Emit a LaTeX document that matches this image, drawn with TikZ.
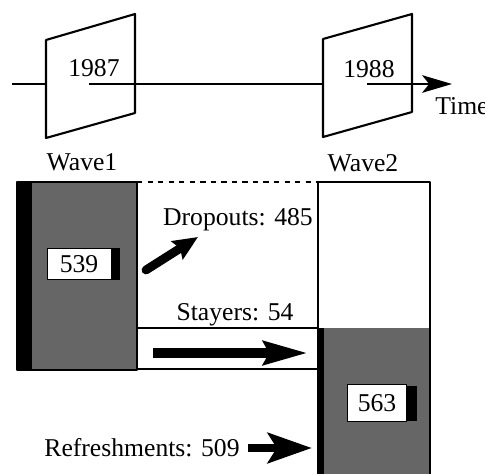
\documentclass[tikz,border=0pt]{standalone}
\usepackage{fontspec}
\setmainfont{Liberation Serif}
\usetikzlibrary{arrows.meta}

\tikzset{
  lbl/.style={font=\fontsize{14.6}{16}\selectfont, inner sep=0pt},
  plane/.style={fill=white, draw=black, line width=1.2pt},
  halftone/.style={fill=black!60},
  countbox/.style={lbl, fill=white, draw=black, line width=0.5pt},
  blockarrow/.style={line width=5.5pt, line cap=butt,
    -{Stealth[length=25pt, width=13pt, inset=3pt]}}
}

\begin{document}
\begin{tikzpicture}[x=0.02cm, y=-0.02cm, line join=round]

\useasboundingbox (0,0) rectangle (485,474);

% === EJE DEL TIEMPO ===
\coordinate (t0) at (12,84);
\coordinate (p1in) at (46,84);
\coordinate (p1out) at (89,84);
\coordinate (p1mid) at (112,84);
\coordinate (p2in) at (323,84);
\coordinate (p2out) at (367,84);
\coordinate (tend) at (452,84);
\draw[line width=1.1pt] (t0) -- (p1in);
% Plano Wave1
\draw[plane] (46,40) -- (135,14) -- (135,113) -- (46,138) -- cycle;
\draw[line width=1.1pt] (p1out) -- (p1mid);
\draw[line width=0.6pt] (p1mid) -- (p2in);
% Plano Wave2
\draw[plane] (323,39) -- (412,14) -- (412,112) -- (323,137) -- cycle;
\draw[line width=1.1pt, -{Stealth[length=17pt, width=10pt, inset=4pt]}] (p2out) -- (tend);

\node[lbl] (y1987) at (94,68) {1987};
\node[lbl] (y1988) at (369,69) {1988};
\node[lbl, anchor=west] (time) at (435,106) {Time};
\node[lbl] (wave1) at (82,162) {Wave1};
\node[lbl] (wave2) at (363,163) {Wave2};

% === BARRA WAVE1 ===
\fill[halftone] (17,182) rectangle (137,370);
\fill[black] (17,182) rectangle (32,370);
\draw[line width=0.6pt] (17,182) rectangle (137,370);
% Linea punteada superior
\draw[dashed, line width=0.7pt] (137,182) -- (318,182);
% Caja de permanencia
\draw[line width=0.7pt] (137,328) -- (318,328);
\draw[line width=0.7pt] (137,369) -- (318,369);

% === BARRA WAVE2 ===
\fill[white] (318,182) rectangle (430,328);
\fill[halftone] (318,328) rectangle (430,480);
\fill[black] (318,328) rectangle (324,480);
\draw[line width=1.2pt] (318,480) -- (318,182) -- (430,182) -- (430,480);

% Cajas de conteo con sombra
\fill[black] (110,248) rectangle (120,280);
\node[countbox, minimum width=1.28cm, minimum height=0.62cm] (n539) at (79,264) {539};
\fill[black] (406,386) rectangle (417,421);
\node[countbox, minimum width=1.18cm, minimum height=0.74cm] (n563) at (377,403) {563};

% === FLUJOS ===
\node[lbl] (drop) at (238,220) {Dropouts: 485};
\coordinate (droptail) at (146,270);
\coordinate (droptip) at (198,237);
\draw[line width=5pt, line cap=round, -{Stealth[length=14pt, width=12pt, inset=2pt]}] (droptail) -- (droptip);

\node[lbl] (stay) at (235,315) {Stayers: 54};
\coordinate (staytail) at (153,353);
\coordinate (staytip) at (308,353);
\draw[blockarrow] (staytail) -- (staytip);

\node[lbl] (refr) at (142,448) {Refreshments: 509};
\coordinate (refrtail) at (248,448);
\coordinate (refrtip) at (312,448);
\draw[line width=5pt, line cap=butt, -{Stealth[length=25pt, width=17pt, inset=5pt]}] (refrtail) -- (refrtip);

\end{tikzpicture}
\end{document}
